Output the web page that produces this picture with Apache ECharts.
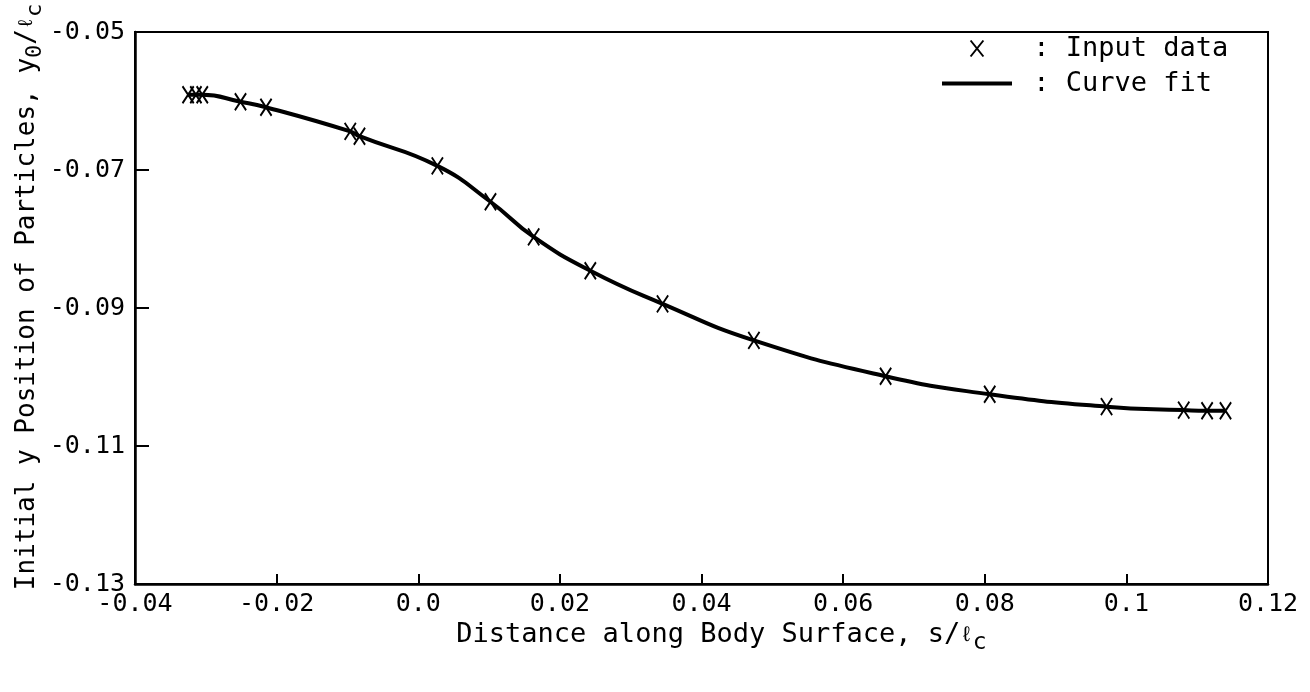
<!DOCTYPE html>
<html>
<head>
<meta charset="utf-8">
<script src="https://cdn.jsdelivr.net/npm/echarts@6/dist/echarts.min.js"></script>
<style>
html,body{margin:0;padding:0;background:#fff;}
#chart{width:1310px;height:692px;}
</style>
</head>
<body>
<div id="chart"></div>
<script>
// Data
const sValues = [-0.0325, -0.0314, -0.0305, -0.0251, -0.0215, -0.0096, -0.0083, 0.0027, 0.0102, 0.0163, 0.0243, 0.0345, 0.0474, 0.0660, 0.0807, 0.0972, 0.1081, 0.1114, 0.1140];
const y0Values = [-0.0591, -0.0591, -0.0591, -0.0601, -0.0609, -0.0644, -0.0651, -0.0694, -0.0746, -0.0797, -0.0846, -0.0894, -0.0947, -0.0999, -0.1025, -0.1043, -0.1048, -0.1049, -0.1049];
const xTickValues = [-0.04, -0.02, 0.0, 0.02, 0.04, 0.06, 0.08, 0.1, 0.12];
const xTickLabels = ['-0.04', '-0.02', '0.0', '0.02', '0.04', '0.06', '0.08', '0.1', '0.12'];
const yTickValues = [-0.13, -0.11, -0.09, -0.07, -0.05];
const yTickLabels = ['-0.13', '-0.11', '-0.09', '-0.07', '-0.05'];

const points = sValues.map((s, i) => [s, y0Values[i]]);
const MONO = '"DejaVu Sans Mono", "Liberation Mono", monospace';
const X_PATH = 'path://M0,0L12,15M12,0L0,15';
const LINE_ICON = 'path://M0,0L70,0L70,4L0,4Z';

function lookup(vals, labels, v) {
  for (let i = 0; i < vals.length; i++) if (Math.abs(vals[i] - v) < 1e-9) return labels[i];
  return '';
}

const chart = echarts.init(document.getElementById('chart'), null, {renderer: 'canvas'});
chart.setOption({
  animation: false,
  backgroundColor: '#fff',
  grid: {left: 135, right: 42, top: 32, bottom: 108, show: true, borderColor: '#000', borderWidth: 2,
    containLabel: false, outerBoundsMode: 'none'},
  legend: {
    left: 937, top: 30, orient: 'vertical', itemWidth: 70, itemHeight: 16, itemGap: 8,
    symbolKeepAspect: true,
    formatter: ' : {name}',
    textStyle: {fontFamily: MONO, fontSize: 27, color: '#000'},
    data: [
      {name: 'Input data', icon: X_PATH},
      {name: 'Curve fit', icon: LINE_ICON, itemStyle: {color: '#000', borderWidth: 0}}
    ]
  },
  xAxis: {
    type: 'value', min: -0.04, max: 0.12, interval: 0.02,
    axisLine: {show: true, onZero: false, lineStyle: {color: '#000', width: 2.5}},
    axisTick: {show: true, inside: true, length: 10, lineStyle: {color: '#000', width: 2}, customValues: xTickValues},
    axisLabel: {color: '#000', fontFamily: MONO, fontSize: 25, margin: 8, customValues: xTickValues,
      formatter: v => lookup(xTickValues, xTickLabels, v)},
    splitLine: {show: false},
    name: 'Distance along Body Surface, s/{sm|ℓ}{sub|c}',
    nameLocation: 'middle', nameGap: 30,
    nameTextStyle: {color: '#000', fontFamily: MONO, fontSize: 27, padding: [0, 0, 0, 40],
      rich: {sm: {fontFamily: MONO, fontSize: 21, color: '#000'}, sub: {fontFamily: MONO, fontSize: 23, color: '#000', padding: [16, 0, 0, 0]}}}
  },
  yAxis: {
    type: 'value', min: -0.13, max: -0.05,
    axisLine: {show: true, onZero: false, lineStyle: {color: '#000', width: 2.5}},
    axisTick: {show: true, inside: true, length: 14, lineStyle: {color: '#000', width: 2}, customValues: yTickValues},
    axisLabel: {color: '#000', fontFamily: MONO, fontSize: 25, margin: 10, customValues: yTickValues,
      formatter: v => lookup(yTickValues, yTickLabels, v)},
    splitLine: {show: false},
    name: 'Initial y Position of Particles, y{sub|0}/{sm|ℓ}{sub|c}',
    nameLocation: 'middle', nameGap: 89, nameMoveOverlap: false,
    nameTextStyle: {color: '#000', fontFamily: MONO, fontSize: 26, padding: [0, 0, 0, 22],
      rich: {sm: {fontFamily: MONO, fontSize: 20, color: '#000'}, sub: {fontFamily: MONO, fontSize: 22, color: '#000', padding: [16, 0, 0, 0]}}}
  },
  series: [
    {
      name: 'Input data', type: 'scatter', data: points, symbol: X_PATH, symbolSize: [14, 17], symbolKeepAspect: true,
      itemStyle: {color: 'rgba(0,0,0,0)', borderColor: '#000', borderWidth: 2, opacity: 1}, z: 3
    },
    {
      name: 'Curve fit', type: 'line', data: points, smooth: 0.5,
      symbol: 'none', showSymbol: false, lineStyle: {color: '#000', width: 4}, itemStyle: {color: '#000'}, z: 2
    }
  ]
});
</script>
</body>
</html>
